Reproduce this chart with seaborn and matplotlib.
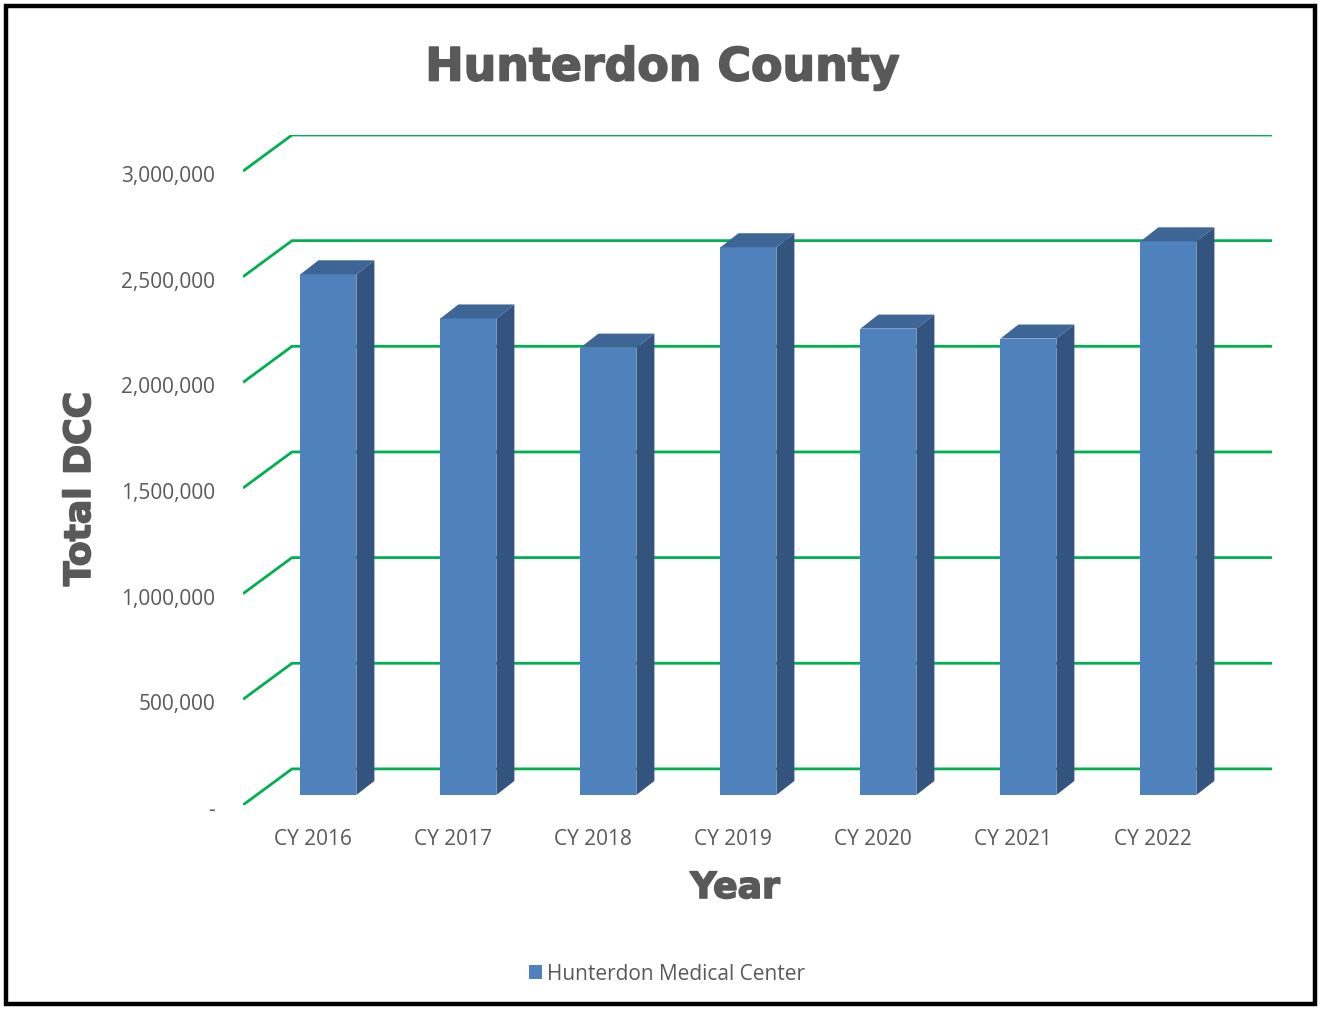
import numpy as np
import matplotlib.pyplot as plt
import matplotlib.patheffects as pe
import matplotlib.transforms as mtrans
import seaborn as sns
import pandas as pd
from matplotlib.patches import Polygon, Rectangle
from matplotlib.ticker import FuncFormatter

years = ["CY 2016", "CY 2017", "CY 2018", "CY 2019", "CY 2020", "CY 2021", "CY 2022"]
dcc = [2464000, 2255000, 2117000, 2592000, 2207000, 2160000, 2620000]
series_name = "Hunterdon Medical Center"
yticks = [0, 500000, 1000000, 1500000, 2000000, 2500000, 3000000]

df = pd.DataFrame({"year": years, "dcc": dcc, "series": series_name})

W, H = 1321, 1009
front = "#4F81BD"
side = "#33547E"
top = "#3D6595"
green = "#00B050"
grey = "#595959"

sns.set_style("white")
plt.rcParams["font.family"] = ["Open Sans", "DejaVu Sans"]

fig = plt.figure(figsize=(W / 100, H / 100), dpi=100)
ax = fig.add_axes([243 / W, 1 - 805 / H, (1272 - 243) / W, (805 - 135) / H])

# pseudo 3D geometry (data units)
per_px = 3000000 / 632
wall_dx, wall_dy = 49 / 140, 36 * per_px
bar_dx, bar_dy = 0.11, 10 * per_px
dep_dx, dep_dy = 18 / 140, 14 * per_px

# back wall gridlines with the left diagonal
for v in yticks:
    ax.plot([-0.5, -0.5 + wall_dx, 6.5 + wall_dx], [v, v + wall_dy, v + wall_dy],
            color=green, lw=2.0, zorder=1, solid_capstyle="butt")

sns.barplot(data=df, x="year", y="dcc", hue="series", palette=[front],
            width=0.4, saturation=1, ax=ax, zorder=3, linewidth=0)

for p in list(ax.patches):
    p.set_x(p.get_x() + bar_dx)
    p.set_y(bar_dy)
    x0, x1 = p.get_x(), p.get_x() + p.get_width()
    y0, y1 = bar_dy, bar_dy + p.get_height()
    ax.add_patch(Polygon([(x1, y0), (x1 + dep_dx, y0 + dep_dy), (x1 + dep_dx, y1 + dep_dy), (x1, y1)],
                         closed=True, facecolor=side, edgecolor="none", zorder=3))
    ax.add_patch(Polygon([(x0, y1), (x1, y1), (x1 + dep_dx, y1 + dep_dy), (x0 + dep_dx, y1 + dep_dy)],
                         closed=True, facecolor=top, edgecolor="none", zorder=3))

ax.set_xlim(-0.5, 6.5 + wall_dx)
ax.set_ylim(0, 3000000 + wall_dy)

ax.set_yticks(yticks)
ax.yaxis.set_major_formatter(FuncFormatter(lambda v, pos: "-" if v == 0 else "{:,.0f}".format(v)))
ax.set_xticks(range(len(years)))
ax.set_xticklabels(years)
ax.tick_params(axis="y", length=0, pad=20, labelsize=15, labelcolor=grey)
ax.tick_params(axis="x", length=0, pad=17, labelsize=15, labelcolor=grey)
shift = mtrans.ScaledTranslation(0, -3 / 100, fig.dpi_scale_trans)
for lbl in ax.get_yticklabels():
    lbl.set_transform(lbl.get_transform() + shift)
for s in ax.spines.values():
    s.set_visible(False)

ax.set_xlabel("")
ax.set_ylabel("")
heavy = [pe.withStroke(linewidth=1.2, foreground=grey)]
fig.text(735 / W, 1 - 888 / H, "Year", ha="center", va="center", fontsize=26,
         fontweight="bold", color=grey, family="DejaVu Sans", path_effects=heavy)
fig.text(80 / W, 1 - 489 / H, "Total DCC", ha="center", va="center", rotation=90, fontsize=26,
         fontweight="bold", color=grey, family="DejaVu Sans", path_effects=heavy)
fig.text(663 / W, 1 - 68 / H, "Hunterdon County", ha="center", va="center", fontsize=33,
         fontweight="bold", color=grey, family="DejaVu Sans", path_effects=heavy)

sns.move_legend(ax, "center", bbox_to_anchor=(667 / W, 1 - 974 / H), bbox_transform=fig.transFigure,
                frameon=False, title=None, fontsize=15, handlelength=0.65, handleheight=0.65,
                handletextpad=0.25)
for t in ax.get_legend().get_texts():
    t.set_color(grey)

fig.patches.append(Rectangle((6 / W, 5 / H), 1309 / W, 998 / H, transform=fig.transFigure,
                             fill=False, edgecolor="black", linewidth=3.2))

fig.savefig("out.png", dpi=100)
